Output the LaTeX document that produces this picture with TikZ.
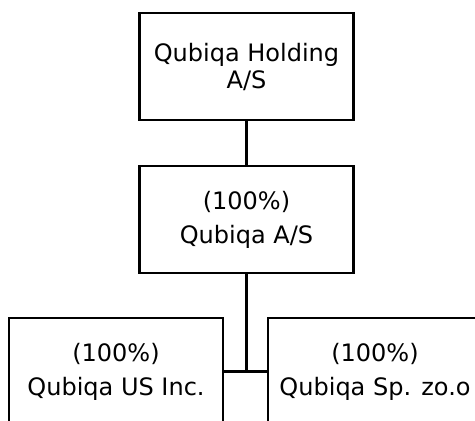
\documentclass[tikz,border=0pt]{standalone}
\usepackage{fontspec}
\setmainfont{DejaVu Sans}
\usetikzlibrary{positioning}

\begin{document}
\begin{tikzpicture}[
    x=1pt, y=1pt,
    node distance=152pt,
    on grid,
    company/.style={draw, line width=2.6pt, minimum width=214pt, minimum height=107pt, inner sep=0pt, align=center, font=\fontsize{24}{27}\selectfont},
    owned/.style={company, font=\fontsize{24}{34}\selectfont},
    link/.style={line width=2.6pt}
]
   \useasboundingbox (0,0) rectangle (475,-421);
   \clip (0,0) rectangle (475,-421);

   % Companies
   \node[company] (holding) at (246.5,-66.5) {Qubiqa Holding\\A/S};
   \node[owned] (qubiqa) [below=153pt of holding] {(100\%)\\Qubiqa A/S};
   \node[owned] (us) [below left=152pt and 130.5pt of qubiqa] {(100\%)\\Qubiqa US Inc.};
   \node[owned] (pl) [below right=152pt and 128.5pt of qubiqa] {(100\%)\\Qubiqa Sp. zo.o};

   % Ownership lines
   \coordinate (fork) at (qubiqa.south |- us.east);
   \draw[link] (holding) -- (qubiqa);
   \draw[link] (qubiqa) -- (fork);
   \draw[link] (us.east) -- (pl.west);
\end{tikzpicture}
\end{document}
